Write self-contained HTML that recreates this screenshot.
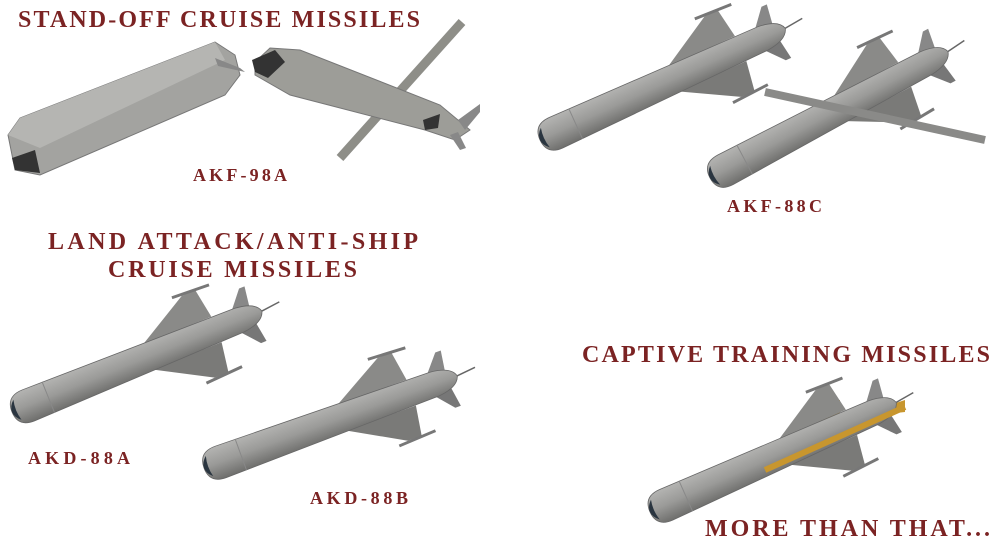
<!DOCTYPE html>
<html><head><style>
html,body{margin:0;padding:0;background:#fff;width:1000px;height:545px;overflow:hidden}
svg{display:block}
text{font-family:"Liberation Serif",serif;fill:#7b2323;font-weight:bold}
</style></head><body>
<svg width="1000" height="545" viewBox="0 0 1000 545">
<defs>
<linearGradient id="g" x1="0" y1="0" x2="0" y2="1">
<stop offset="0" stop-color="#b4b4b2"/><stop offset="0.5" stop-color="#9a9a98"/><stop offset="1" stop-color="#6e6e6c"/>
</linearGradient>
<g id="m">
<polygon points="150,-14 205,-45 220,-45 225,-14" fill="#8a8a88"/>
<polygon points="150,14 205,45 220,45 225,14" fill="#7a7a78"/>
<line x1="195" y1="-47" x2="235" y2="-45" stroke="#777" stroke-width="3"/>
<line x1="195" y1="47" x2="235" y2="45" stroke="#777" stroke-width="3"/>
<polygon points="245,-10 262,-30 268,-30 265,-10" fill="#888"/>
<polygon points="245,10 262,30 268,30 265,10" fill="#777"/>
<path d="M18,-17 L250,-13 Q272,-11 275,0 Q272,11 250,13 L18,17 Q0,17 0,0 Q0,-17 18,-17 Z" fill="url(#g)" stroke="#666" stroke-width="0.8"/>
<path d="M6,-11 Q0,-6 0,0 Q0,6 6,11 Q3,0 6,-11Z" fill="#2a3540"/>
<line x1="40" y1="-17" x2="40" y2="17" stroke="#888"/>
<line x1="275" y1="0" x2="295" y2="-2" stroke="#666" stroke-width="1.5"/>
</g>
</defs>

<text x="18" y="27" font-size="24" textLength="402" lengthAdjust="spacing">STAND-OFF CRUISE MISSILES</text>
<polygon points="8,135 20,118 215,42 235,55 240,75 225,95 40,175 15,170" fill="#a3a3a0" stroke="#777"/>
<polygon points="8,135 20,118 215,42 225,60 40,148" fill="#b5b5b2"/>
<polygon points="12,158 35,150 40,173 15,170" fill="#333"/>
<polygon points="215,58 240,68 245,72 218,66" fill="#888"/>
<line x1="340" y1="158" x2="462" y2="22" stroke="#8e8e88" stroke-width="9"/>
<path d="M255,62 L270,48 L300,50 L440,105 L470,130 L455,140 L425,130 L290,95 L255,75 Z" fill="#9d9d98" stroke="#777"/>
<polygon points="252,60 275,50 285,62 268,78 255,72" fill="#333"/>
<polygon points="423,120 440,114 438,128 425,130" fill="#333"/>
<polygon points="458,120 480,104 480,112 465,130" fill="#888"/>
<polygon points="450,135 460,150 466,148 458,132" fill="#888"/>
<text x="193" y="181" font-size="18" textLength="94" lengthAdjust="spacing">AKF-98A</text>

<use href="#m" transform="translate(540,140) rotate(-24.5) scale(0.98)"/>
<use href="#m" transform="translate(710,178) rotate(-28) scale(0.98)"/>
<line x1="765" y1="92" x2="985" y2="140" stroke="#8a8a88" stroke-width="8"/>
<text x="727" y="212" font-size="18" textLength="95" lengthAdjust="spacing">AKF-88C</text>

<text x="48" y="249" font-size="24" textLength="370" lengthAdjust="spacing">LAND ATTACK/ANTI-SHIP</text>
<text x="108" y="277" font-size="24" textLength="249" lengthAdjust="spacing">CRUISE MISSILES</text>
<use href="#m" transform="translate(12,412) rotate(-22) scale(0.98)"/>
<use href="#m" transform="translate(204,468) rotate(-20) scale(0.98)"/>
<text x="28" y="464" font-size="18" textLength="102" lengthAdjust="spacing">AKD-88A</text>
<text x="310" y="504" font-size="18" textLength="98" lengthAdjust="spacing">AKD-88B</text>

<text x="582" y="362" font-size="24" textLength="408" lengthAdjust="spacing">CAPTIVE TRAINING MISSILES</text>
<polygon points="805,432 825,400 840,400 840,432" fill="#c8962e"/>
<polygon points="850,418 905,400 905,412" fill="#c8962e"/>
<use href="#m" transform="translate(650,512) rotate(-24) scale(0.98)"/>
<line x1="765" y1="470" x2="905" y2="407" stroke="#c8962e" stroke-width="6"/>
<text x="705" y="536" font-size="24" textLength="285" lengthAdjust="spacing">MORE THAN THAT...</text>
</svg>
</body></html>
